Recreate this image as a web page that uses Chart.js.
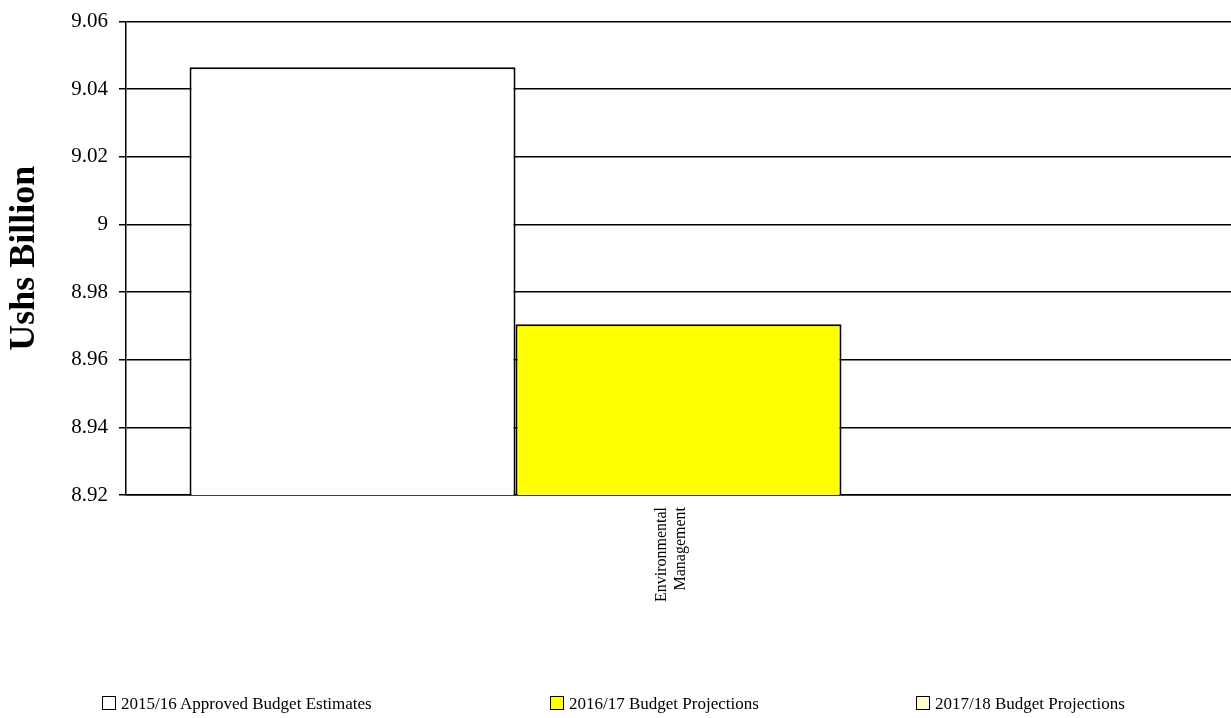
<!DOCTYPE html>
<html>
<head>
<meta charset="utf-8">
<script src="https://cdn.jsdelivr.net/npm/chart.js@4"></script>
<style>
  html, body { margin: 0; padding: 0; background: #fff; }
  #wrap { position: relative; width: 1231px; height: 718px; }
  #legend { position: absolute; left: 0; top: 0; width: 1231px; height: 718px; pointer-events: none; }
  .item { position: absolute; top: 694px; font: 17px "Liberation Serif", "Times New Roman", serif; color: #000; white-space: nowrap; }
  .box { display: inline-block; width: 12px; height: 12px; border: 1.5px solid #000; vertical-align: -1px; margin-right: 5px; }
</style>
</head>
<body>
<div id="wrap">
  <canvas id="budgetChart" width="1231" height="718"></canvas>
  <div id="legend"></div>
</div>
<script>
const categories = [['Environmental', 'Management']];
const seriesLabels = ['2015/16 Approved Budget Estimates', '2016/17 Budget Projections', '2017/18 Budget Projections'];
const approved1516 = [9.0465];
const projected1617 = [8.9705];
const projected1718 = [null]; // no bar visible above the 8.92 axis floor
const seriesColors = ['#ffffff', '#ffff00', '#ffffcc'];
const yTicks = [8.92, 8.94, 8.96, 8.98, 9, 9.02, 9.04, 9.06];
const legendLeft = [102, 550, 916];

const serif = '"Liberation Serif", "Times New Roman", serif';

document.addEventListener('DOMContentLoaded', function () {
    const ctx = document.getElementById('budgetChart').getContext('2d');
    const seriesData = [approved1516, projected1617, projected1718];

    new Chart(ctx, {
        type: 'bar',
        data: {
            labels: categories,
            datasets: seriesLabels.map((label, i) => ({
                label: label,
                data: seriesData[i],
                backgroundColor: seriesColors[i],
                borderColor: '#000',
                borderWidth: 2,
                barPercentage: 1,
                categoryPercentage: 0.885
            }))
        },
        options: {
            responsive: false,
            animation: false,
            layout: { padding: { top: 20, right: 0, bottom: 73, left: 0 } },
            plugins: {
                legend: { display: false },
                tooltip: { enabled: false }
            },
            scales: {
                x: {
                    grid: { display: false },
                    border: { display: true, color: '#000', width: 1.5 },
                    ticks: {
                        color: '#000',
                        font: { family: serif, size: 16 },
                        maxRotation: 90,
                        minRotation: 90,
                        padding: 4,
                        labelOffset: -17
                    },
                    afterFit: function (scale) { scale.height = 150; }
                },
                y: {
                    min: 8.92,
                    max: 9.06,
                    afterBuildTicks: function (scale) {
                        scale.ticks = yTicks.map(v => ({ value: v }));
                    },
                    grid: { color: '#000', lineWidth: 1.5, tickLength: 7 },
                    border: { display: true, color: '#000', width: 1.5 },
                    ticks: {
                        color: '#000',
                        font: { family: serif, size: 21, lineHeight: 1 },
                        padding: 11,
                        callback: v => String(Math.round(v * 100) / 100)
                    },
                    title: {
                        display: true,
                        text: 'Ushs Billion',
                        color: '#000',
                        font: { family: serif, size: 36, weight: 'bold' },
                        padding: { top: 3, bottom: 0 }
                    },
                    afterFit: function (scale) { scale.width = 126; }
                }
            }
        }
    });

    // legend below the plot, placed like the original
    const legend = document.getElementById('legend');
    seriesLabels.forEach((label, i) => {
        const item = document.createElement('div');
        item.className = 'item';
        item.style.left = legendLeft[i] + 'px';
        const box = document.createElement('span');
        box.className = 'box';
        box.style.background = seriesColors[i];
        item.appendChild(box);
        item.appendChild(document.createTextNode(label));
        legend.appendChild(item);
    });
});
</script>
</body>
</html>
